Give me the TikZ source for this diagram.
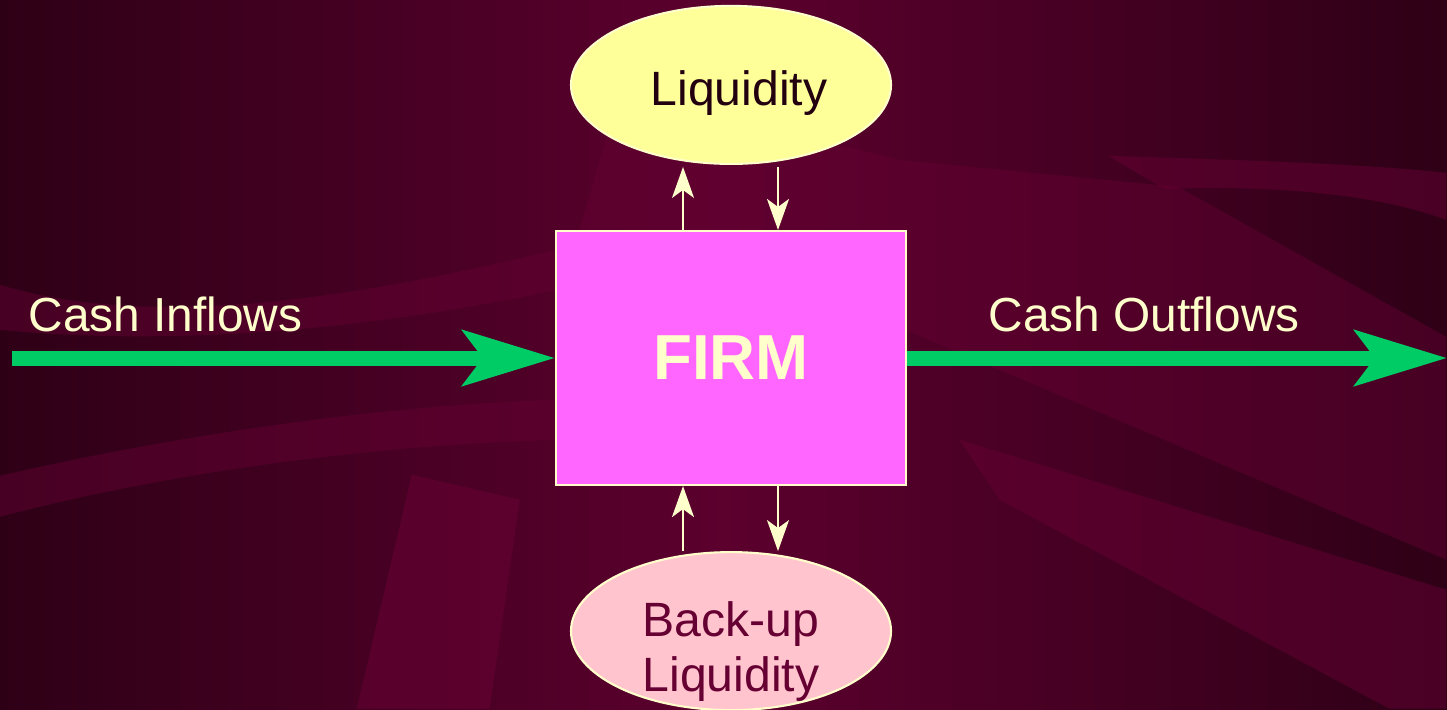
\documentclass[tikz,border=0pt]{standalone}
\usepackage{fontspec}
\setmainfont{Liberation Sans}
\usetikzlibrary{arrows.meta}
\usetikzlibrary{positioning}
\usetikzlibrary{shapes.geometric}

\definecolor{bgdark}{HTML}{2E0016}
\definecolor{bgmid}{HTML}{5C002E}
\definecolor{swoosh}{HTML}{660033}
\definecolor{cream}{HTML}{FFFFCC}
\definecolor{firmpink}{HTML}{FF66FF}
\definecolor{liqyellow}{HTML}{FFFF99}
\definecolor{backuppink}{HTML}{FFC4CE}
\definecolor{wine}{HTML}{660033}
\definecolor{inkdark}{HTML}{220010}
\definecolor{cashgreen}{HTML}{00CC66}

\begin{document}
\begin{tikzpicture}
  [
    firmbox/.style = {draw=cream, line width=0.6pt, fill=firmpink, text=cream,
                     minimum width=3.5cm, minimum height=2.54cm,
                     font=\fontsize{18.1}{20}\selectfont\bfseries},
    pool/.style = {ellipse, draw=cream, line width=0.6pt, inner sep=0pt,
                  minimum width=3.2cm, minimum height=1.58cm},
    pooltext/.style = {align=center, inner sep=0pt,
                      font=\fontsize{13.7}{15.6}\selectfont},
    cashtext/.style = {anchor=base west, inner sep=0pt, text=cream,
                      font=\fontsize{13.6}{15.6}\selectfont},
    cashflow/.style = {cashgreen, line width=0.15cm,
                      -{Stealth[length=0.92cm, width=0.55cm, inset=0.2cm]}},
    linkarrow/.style = {cream, line width=0.6pt,
                       -{Stealth[length=0.31cm, width=0.22cm, inset=0.08cm]}},
  ]

  \useasboundingbox (0,0) rectangle (14.47,7.09);
  \shade[left color=bgdark, right color=bgdark, middle color=bgmid]
    (0,0) rectangle (14.47,7.09);

  \begin{scope}[shift={(0,7.09)}, x=0.01cm, y=-0.01cm]
    \clip (0,0) rectangle (1447,709);
    \fill[swoosh, opacity=0.45] (0,476) .. controls (200,430) and (400,405) .. (556,400)
      -- (556,440) .. controls (400,445) and (200,465) .. (0,517) -- cycle;
    \fill[swoosh, opacity=0.45] (0,285) .. controls (150,330) and (350,300) .. (556,250)
      -- (556,290) .. controls (350,335) and (150,345) .. (0,330) -- cycle;
    \fill[swoosh, opacity=0.6] (412,475) -- (520,500) -- (490,709) -- (357,709) -- cycle;
    \fill[swoosh, opacity=0.5] (1109,156) .. controls (1250,160) and (1380,165) .. (1447,173)
      -- (1447,220) .. controls (1380,195) and (1280,185) .. (1165,189) -- cycle;
    \fill[swoosh, opacity=0.45] (580,230) -- (620,90) -- (900,160) -- (1179,187)
      -- (1447,337) -- (1447,560) -- (906,330) -- cycle;
    \fill[swoosh, opacity=0.5] (960,440) -- (1447,590) -- (1447,709) -- (1390,709) -- (1000,500) -- cycle;
  \end{scope}

  \node[firmbox] (firm) at (7.31,3.51) {FIRM};
  \node[pool, fill=liqyellow] [above = 0.65cm of firm] (liq) {};
  \node[pooltext, text=inkdark] at ([xshift=0.08cm, yshift=-0.08cm]liq.center) (liqtext) {Liquidity};
  \node[pool, fill=backuppink] [below = 0.65cm of firm] (backup) {};
  \node[pooltext, text=wine] at ([yshift=-0.205cm]backup.center) (backuptext) {Back-up\\Liquidity};

  \node[cashtext] at (0.28,3.78) (intext) {Cash Inflows};
  \node[cashtext] at (9.88,3.78) (outtext) {Cash Outflows};

  \coordinate (instart) at (0.12,3.51);
  \coordinate (outend) at (14.47,3.51);
  \draw[cashflow] (instart) -- (firm.west);
  \draw[cashflow] (firm.east) -- (outend);

  \draw[linkarrow, shorten >=0.02cm] ([xshift=-0.48cm]firm.north) -- ([xshift=-0.48cm]firm.north |- liq.south);
  \draw[linkarrow, shorten <=0.02cm] ([xshift=0.47cm]firm.north |- liq.south) -- ([xshift=0.47cm]firm.north);
  \draw[linkarrow] ([xshift=-0.48cm]firm.south |- backup.north) -- ([xshift=-0.48cm]firm.south);
  \draw[linkarrow] ([xshift=0.47cm]firm.south) -- ([xshift=0.47cm]firm.south |- backup.north);

\end{tikzpicture}
\end{document}
